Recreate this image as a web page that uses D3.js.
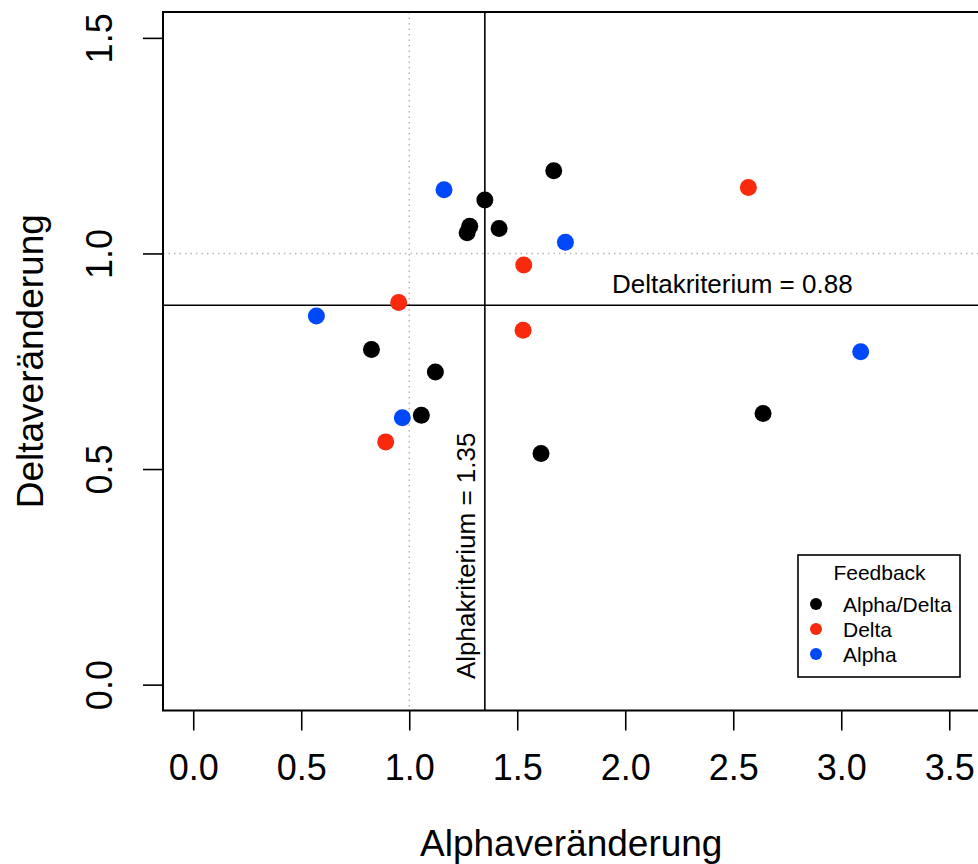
<!DOCTYPE html>
<meta charset="utf-8">
<style>
body { margin: 0; background: #fff; }
text { font-family: "Liberation Sans", Arial, Helvetica, sans-serif; fill: #000; }
</style>
<svg width="978" height="864"></svg>
<script src="https://d3js.org/d3.v7.min.js"></script>
<script>

// data
var groups = ["Alpha/Delta", "Delta", "Alpha"];
var groupColours = ["#000000", "#f8290d", "#0048f8"];

var alphaChange = [1.669, 1.350, 1.280, 1.268, 1.416, 0.825, 1.121, 1.056, 1.610, 2.638,
                   1.530, 0.951, 1.527, 0.891, 2.570,
                   1.161, 1.723, 0.570, 0.968, 3.090];
var deltaChange = [1.192, 1.124, 1.063, 1.048, 1.058, 0.777, 0.725, 0.625, 0.536, 0.629,
                   0.973, 0.886, 0.822, 0.563, 1.153,
                   1.148, 1.026, 0.855, 0.619, 0.772];
var feedback = [0, 0, 0, 0, 0, 0, 0, 0, 0, 0,
                1, 1, 1, 1, 1,
                2, 2, 2, 2, 2];

var xTicks = [0, 0.5, 1, 1.5, 2, 2.5, 3, 3.5];
var yTicks = [0, 0.5, 1, 1.5];

var alphaCrit = 1.35, deltaCrit = 0.88;

var svg = d3.select("svg");

var plotLeft = 163, plotRight = 979.5, plotTop = 12, plotBottom = 710.5;

var x = d3.scaleLinear().domain([-0.14, 3.64]).range([plotLeft, plotRight]);
var y = d3.scaleLinear().domain([-0.06, 1.56]).range([plotBottom, plotTop]);

//reference lines at 1
svg.append("line")
  .attr("x1", x(1)).attr("x2", x(1)).attr("y1", plotTop).attr("y2", plotBottom)
  .attr("stroke", "#b0b0b0").attr("stroke-width", 1.4).attr("stroke-dasharray", "1.4,4.1");
svg.append("line")
  .attr("x1", plotLeft).attr("x2", plotRight).attr("y1", y(1)).attr("y2", y(1))
  .attr("stroke", "#b0b0b0").attr("stroke-width", 1.4).attr("stroke-dasharray", "1.4,4.1");

//criterion lines
svg.append("line")
  .attr("x1", x(alphaCrit)).attr("x2", x(alphaCrit)).attr("y1", plotTop).attr("y2", plotBottom)
  .attr("stroke", "#000").attr("stroke-width", 1.6);
svg.append("line")
  .attr("x1", plotLeft).attr("x2", plotRight).attr("y1", y(deltaCrit)).attr("y2", y(deltaCrit))
  .attr("stroke", "#000").attr("stroke-width", 1.6);

svg.append("text")
  .attr("x", 612).attr("y", y(deltaCrit) - 12)
  .style("font-size", "26px")
  .text("Deltakriterium = " + deltaCrit);

svg.append("text")
  .attr("transform", "translate(" + (x(alphaCrit) - 10) + ",679) rotate(-90)")
  .style("font-size", "26px")
  .text("Alphakriterium = " + alphaCrit);

//points
svg.append("g").selectAll("circle")
  .data(alphaChange)
  .enter().append("circle")
  .attr("cx", function(d) { return x(d); })
  .attr("cy", function(d, i) { return y(deltaChange[i]); })
  .attr("r", 8.5)
  .attr("fill", function(d, i) { return groupColours[feedback[i]]; });

//box
svg.append("rect")
  .attr("x", plotLeft).attr("y", plotTop)
  .attr("width", plotRight - plotLeft).attr("height", plotBottom - plotTop)
  .attr("fill", "none").attr("stroke", "#000").attr("stroke-width", 2);

//axes
var xAxis = svg.append("g")
  .attr("transform", "translate(0," + plotBottom + ")")
  .call(d3.axisBottom(x).tickValues(xTicks).tickSize(20).tickPadding(24).tickFormat(d3.format(".1f")));
xAxis.select(".domain").remove();
xAxis.selectAll("line").attr("stroke-width", 1.6);
xAxis.selectAll("text").style("font-size", "36px").style("font-family", null);

var yAxis = svg.append("g")
  .attr("transform", "translate(" + plotLeft + ",0)")
  .call(d3.axisLeft(y).tickValues(yTicks).tickSize(20).tickFormat(d3.format(".1f")));
yAxis.select(".domain").remove();
yAxis.selectAll("line").attr("stroke-width", 1.6);
yAxis.selectAll("text")
  .style("font-size", "36px").style("font-family", null)
  .attr("transform", "rotate(-90)")
  .attr("x", 0).attr("y", -51).attr("dy", 0)
  .attr("text-anchor", "middle");

//axis titles
svg.append("text")
  .attr("x", (plotLeft + plotRight) / 2).attr("y", 856)
  .attr("text-anchor", "middle")
  .style("font-size", "37px")
  .text("Alphaveränderung");

svg.append("text")
  .attr("transform", "translate(43," + (plotTop + plotBottom) / 2 + ") rotate(-90)")
  .attr("text-anchor", "middle")
  .style("font-size", "37px")
  .text("Deltaveränderung");

//legend
var legend = svg.append("g");
legend.append("rect")
  .attr("x", 798).attr("y", 555).attr("width", 162).attr("height", 122)
  .attr("fill", "#fff").attr("stroke", "#000").attr("stroke-width", 1.6);
legend.append("text")
  .attr("x", 879.5).attr("y", 580)
  .attr("text-anchor", "middle")
  .style("font-size", "21px")
  .text("Feedback");

var item = legend.selectAll(".item")
  .data(groups)
  .enter().append("g")
  .attr("class", "item")
  .attr("transform", function(d, i) { return "translate(0," + (604 + i * 25) + ")"; });
item.append("circle")
  .attr("cx", 816).attr("cy", 0).attr("r", 6)
  .attr("fill", function(d, i) { return groupColours[i]; });
item.append("text")
  .attr("x", 843).attr("y", 7.5)
  .style("font-size", "21px")
  .text(function(d) { return d; });

</script>
